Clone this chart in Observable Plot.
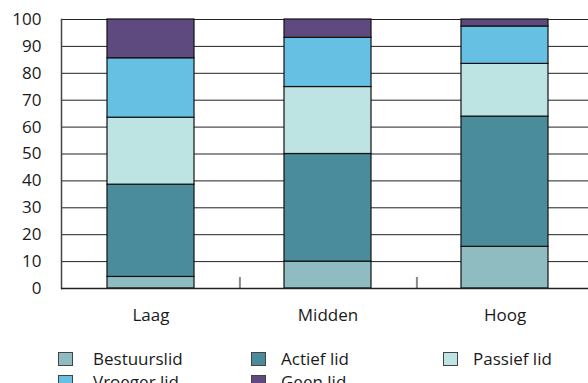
<!DOCTYPE html>
<html>
<head>
<meta charset="utf-8">
<script src="https://cdn.jsdelivr.net/npm/d3@7"></script>
<script src="https://cdn.jsdelivr.net/npm/@observablehq/plot@0.6"></script>
<style>
  html, body { margin: 0; padding: 0; background: #fff; overflow: hidden; }
  #wrap { position: relative; width: 588px; height: 383px; font-family: "Open Sans", Lato, sans-serif; color: #1a1a1a; }
  #chart svg { display: block; }
  .sw { position: absolute; width: 13px; height: 12px; border: 1px solid #444; box-sizing: content-box; }
  .lb { position: absolute; font-size: 17px; line-height: 20px; white-space: nowrap; }
</style>
</head>
<body>
<div id="wrap">
  <div id="chart"></div>
  <div id="legend"></div>
</div>
<script>
const categories = ["Laag", "Midden", "Hoog"];
const segments = ["Bestuurslid", "Actief lid", "Passief lid", "Vroeger lid", "Geen lid"];
const colors = ["#8fbcc0", "#4a8c9b", "#bde3e2", "#66c0e4", "#5f4a80"];
const bestuurslid = [4.3, 10.0, 15.5];
const actiefLid = [34.3, 40.0, 48.4];
const passiefLid = [24.9, 24.9, 19.6];
const vroegerLid = [22.1, 18.3, 13.9];
const geenLid = [14.4, 6.8, 2.6];
const yTicks = [0, 10, 20, 30, 40, 50, 60, 70, 80, 90, 100];

const seriesValues = [bestuurslid, actiefLid, passiefLid, vroegerLid, geenLid];
const data = [];
categories.forEach((c, i) => {
  segments.forEach((s, j) => data.push({category: c, segment: s, value: seriesValues[j][i]}));
});

const chart = Plot.plot({
  width: 588,
  height: 335,
  marginLeft: 61,
  marginRight: 0,
  marginTop: 19,
  marginBottom: 47,
  style: {fontFamily: "'Open Sans', Lato, sans-serif", fontSize: "17px", color: "#1a1a1a", background: "#fff"},
  x: {domain: categories, range: [61, 594.5], paddingInner: 0.51, paddingOuter: 0.255, label: null},
  y: {domain: [0, 100], label: null},
  color: {domain: segments, range: colors},
  marks: [
    Plot.ruleY(yTicks, {stroke: "#222", strokeWidth: 1}),
    Plot.ruleX(categories.slice(0, 2), {dx: 88.9, y1: 0, y2: 4.1, stroke: "#888", strokeWidth: 2}),
    Plot.barY(data, Plot.stackY({order: segments}, {x: "category", y: "value", fill: "segment", stroke: "#111", strokeWidth: 1.2})),
    Plot.frame({anchor: "left", stroke: "#444", strokeWidth: 1.5}),
    Plot.ruleY([0], {stroke: "#222", strokeWidth: 1.5}),
    Plot.axisY(yTicks, {tickSize: 0, tickPadding: 20, fontSize: 17, fill: "#1a1a1a"}),
    Plot.axisX({tickSize: 0, tickPadding: 20, fontSize: 17, fill: "#1a1a1a"})
  ]
});
document.getElementById("chart").appendChild(chart);

const legend = document.getElementById("legend");
const swX = [58, 251, 443];
const lbX = [93, 281, 473];
const rowY = [352, 375];
segments.forEach((s, i) => {
  const col = i % 3, row = Math.floor(i / 3);
  const sw = document.createElement("div");
  sw.className = "sw";
  sw.style.left = swX[col] + "px";
  sw.style.top = rowY[row] + "px";
  sw.style.background = colors[i];
  const lab = document.createElement("div");
  lab.className = "lb";
  lab.textContent = s;
  lab.style.left = lbX[col] + "px";
  lab.style.top = (rowY[row] - 3) + "px";
  legend.appendChild(sw);
  legend.appendChild(lab);
});
</script>
</body>
</html>
